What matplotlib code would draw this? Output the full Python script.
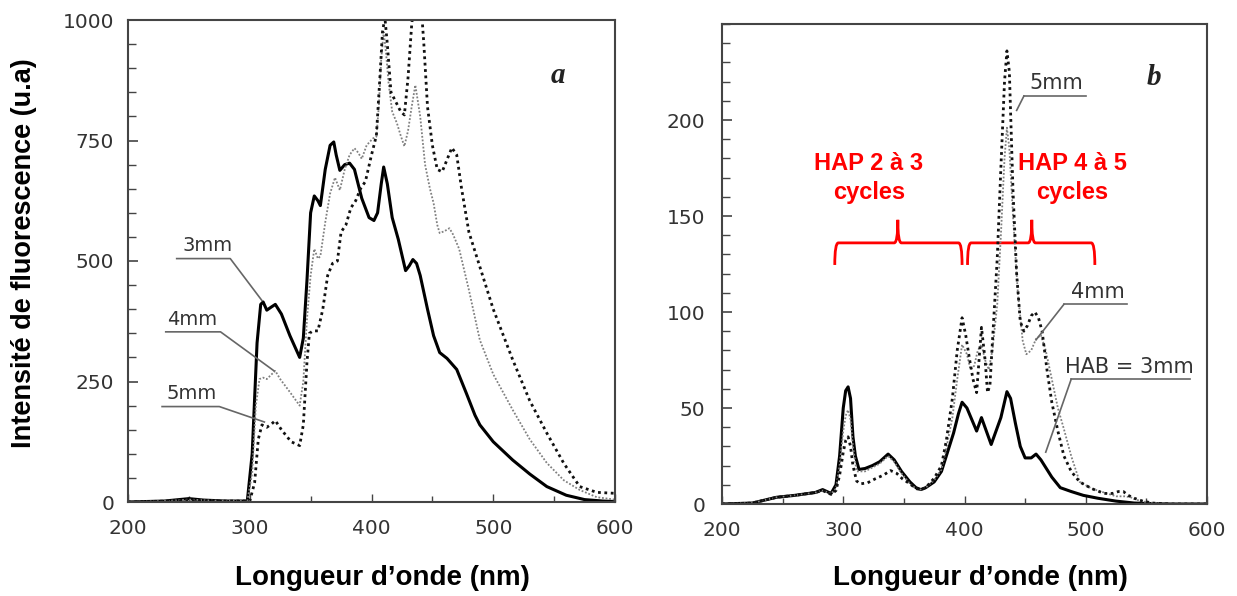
import matplotlib
matplotlib.use("Agg")
import matplotlib.pyplot as plt
from matplotlib.path import Path
from matplotlib.patches import PathPatch
from matplotlib.ticker import MultipleLocator

# ---------------- data: panel a ----------------
a_3mm_wl = [200, 230, 250, 262, 280, 298, 302, 306, 309, 311, 314, 318, 321, 326, 333, 341, 344, 347, 350, 353,
            356, 358, 362, 366, 369, 371, 374, 378, 382, 386, 392, 398, 402, 405, 408, 410, 413, 417, 422, 428,
            431, 434, 437, 440, 446, 451, 456, 462, 470, 478, 485, 489, 500, 516, 530, 544, 560, 575, 590, 600]
a_3mm_val = [0, 2, 7, 4, 2, 2, 100, 330, 410, 415, 398, 405, 410, 390, 345, 300, 340, 460, 600, 635,
             625, 615, 690, 740, 747, 720, 688, 700, 703, 690, 630, 590, 584, 600, 660, 695, 660, 590, 545, 480,
             490, 503, 495, 470, 400, 345, 310, 298, 275, 225, 180, 160, 125, 87, 58, 32, 14, 5, 2, 1]

a_4mm_wl = [200, 230, 250, 270, 298, 302, 305, 308, 311, 314, 318, 321, 325, 333, 341, 344, 347, 350, 353, 356,
            358, 362, 366, 370, 372, 374, 378, 382, 386, 389, 392, 396, 401, 404, 406, 408, 410, 412, 414, 417,
            421, 424, 427, 430, 433, 436, 440, 444, 448, 451, 454, 456, 460, 464, 467, 472, 480, 489, 500, 516,
            530, 544, 558, 571, 585, 600]
a_4mm_val = [0, 2, 5, 3, 2, 60, 200, 255, 258, 255, 265, 272, 255, 228, 200, 250, 380, 470, 525, 505,
             510, 580, 640, 673, 660, 647, 690, 720, 734, 725, 712, 740, 754, 758, 820, 920, 975, 930, 870, 810,
             785, 760, 738, 770, 820, 865, 800, 700, 650, 620, 575, 558, 562, 568, 555, 525, 440, 336, 265, 191,
             130, 81, 45, 25, 10, 5]

a_5mm_wl = [200, 250, 280, 300, 304, 307, 310, 314, 318, 321, 326, 334, 341, 344, 347, 349, 352, 356, 360, 364,
            368, 372, 375, 379, 383, 387, 391, 395, 400, 404, 407, 409, 411, 413, 416, 420, 424, 427, 430, 433,
            436, 440, 443, 446, 450, 454, 458, 462, 466, 470, 474, 480, 489, 500, 516, 530, 544, 558, 571, 585, 600]
a_5mm_val = [0, 3, 2, 2, 40, 130, 160, 155, 162, 169, 150, 125, 117, 160, 290, 350, 355, 355, 400, 470,
             495, 500, 560, 575, 610, 625, 650, 665, 720, 760, 885, 975, 1005, 950, 850, 830, 810, 803, 880, 990,
             1060, 1060, 950, 820, 740, 690, 685, 710, 735, 720, 650, 560, 488, 400, 295, 210, 143, 80, 32, 20, 18]

# ---------------- data: panel b ----------------
b_3mm_wl = [200, 225, 245, 260, 277, 283, 290, 294, 297, 300, 302, 304, 306, 308, 310, 313, 318, 324, 330, 337,
            342, 348, 355, 360, 364, 368, 375, 381, 386, 391, 395, 398, 402, 406, 410, 414, 418, 422, 426, 430,
            435, 438, 442, 446, 450, 455, 459, 463, 467, 472, 479, 488, 498, 510, 525, 540, 555, 570, 600]
b_3mm_val = [0, 0.5, 3.5, 4.5, 6, 7.5, 5.5, 10, 25, 50, 59, 61, 55, 35, 25, 18, 18.5, 20, 22, 26,
             23, 17, 11.5, 8.5, 7.5, 8.5, 11.5, 17, 27, 37, 47, 53, 50, 44, 38, 45, 38, 31, 38, 45,
             58.5, 55, 42, 30, 24, 24, 26, 23, 19, 14, 8.5, 6.5, 4.5, 3, 1.5, 0.5, 0.2, 0, 0]

b_4mm_wl = [200, 225, 245, 260, 277, 283, 290, 294, 297, 300, 302, 304, 306, 308, 311, 318, 324, 330, 337, 342,
            348, 355, 360, 364, 368, 375, 381, 385, 390, 394, 398, 402, 405, 408, 411, 414, 417, 420, 423, 427,
            430, 433, 435, 437, 440, 444, 448, 451, 455, 459, 463, 467, 472, 477, 482, 488, 495, 505, 515, 525,
            532, 537, 545, 555, 570, 600]
b_4mm_val = [0, 0.5, 3.5, 4.5, 6, 7, 5.5, 8, 20, 38, 46, 49, 44, 30, 17, 17, 19, 21, 25, 22,
             16, 10.5, 8, 7.5, 8.5, 12.4, 18, 29, 45, 65, 83, 78, 70, 72, 80, 83, 75, 70, 80, 104,
             140, 180, 196, 185, 150, 110, 85, 78, 80, 86, 88, 80, 65, 50, 39, 25, 11.5, 8, 6, 4,
             4, 3.5, 1.5, 0.6, 0, 0]

b_5mm_wl = [200, 225, 245, 260, 277, 283, 290, 294, 297, 300, 302, 304, 306, 308, 311, 314, 320, 326, 333, 339,
            344, 349, 355, 360, 364, 368, 375, 381, 385, 390, 394, 398, 401, 404, 407, 410, 414, 417, 419, 421,
            424, 427, 430, 433, 435, 437, 440, 443, 446, 449, 452, 455, 458, 461, 464, 468, 472, 477, 482, 488,
            495, 505, 515, 522, 527, 531, 535, 540, 547, 555, 570, 600]
b_5mm_val = [0, 0.5, 3.5, 4.5, 6, 7, 5, 7, 15, 27, 33, 35, 30, 20, 12, 10.5, 11, 13, 15, 17.4,
             16, 13, 10.5, 8, 7.5, 8.5, 13.4, 20, 33, 55, 80, 97, 88, 76, 65, 58, 92, 75, 58, 62,
             95, 128, 175, 220, 236, 225, 163, 120, 95, 90, 93, 98, 100, 97, 90, 70, 53, 38, 25, 17,
             11.5, 8, 5.5, 5.5, 6.5, 6.5, 4.5, 3, 1.5, 0.5, 0, 0]

x_ticks = [200, 300, 400, 500, 600]
a_yticks = [0, 250, 500, 750, 1000]
b_yticks = [0, 50, 100, 150, 200]

TICK_FONT = "DejaVu Sans"
LABEL_FONT = "Liberation Sans"
TXT = "#333333"
SPINE = "#444444"

fig = plt.figure(figsize=(12.37, 5.96), dpi=100)
axa = fig.add_axes([128 / 1237, 94 / 596, 487 / 1237, 482 / 596])
axb = fig.add_axes([722 / 1237, 92 / 596, 485 / 1237, 480 / 596])


def style(ax, ylim, yticks, yminor, pad_y):
    ax.set_xlim(200, 600)
    ax.set_ylim(*ylim)
    ax.set_xticks(x_ticks)
    ax.set_yticks(yticks)
    ax.xaxis.set_minor_locator(MultipleLocator(50))
    ax.yaxis.set_minor_locator(MultipleLocator(yminor))
    ax.tick_params(axis="both", which="both", direction="in", top=False, right=False, color=SPINE)
    ax.tick_params(axis="y", which="major", length=7, width=1.2, pad=pad_y)
    ax.tick_params(axis="y", which="minor", length=6, width=1.0)
    ax.tick_params(axis="x", which="major", length=6, width=1.0, pad=12)
    ax.tick_params(axis="x", which="minor", length=4, width=1.0)
    for lab in ax.get_xticklabels() + ax.get_yticklabels():
        lab.set_fontfamily(TICK_FONT)
        lab.set_fontsize(14.5)
        lab.set_color(TXT)
    for s in ax.spines.values():
        s.set_color(SPINE)
        s.set_linewidth(1.5)


# panel a
axa.plot(a_3mm_wl, a_3mm_val, color="black", lw=2.2, solid_joinstyle="round")
axa.plot(a_4mm_wl, a_4mm_val, color="#808080", lw=1.3, linestyle=(0, (1, 1)))
axa.plot(a_5mm_wl, a_5mm_val, color="#111111", lw=2.0, linestyle=(0, (1, 1.3)))
style(axa, (0, 1000), a_yticks, 50, 10)

lc = "#666666"
for txt, tx, ty, ux0, ux1, uy, ex, ey in [
    ("3mm", 265, 512, 240, 284, 505, 310, 418),
    ("4mm", 253, 358, 231, 276, 353, 320, 272),
    ("5mm", 252, 205, 228, 275, 198, 312, 166),
]:
    axa.text(tx, ty, txt, ha="center", va="bottom", fontsize=14, family=TICK_FONT, color=TXT)
    axa.plot([ux0, ux1, ex], [uy, uy, ey], color=lc, lw=1.2)

axa.text(553, 885, "a", ha="center", va="center", fontsize=21, family="Liberation Serif",
         fontweight="bold", fontstyle="italic", color="#222222")

# panel b
axb.plot(b_3mm_wl, b_3mm_val, color="black", lw=2.2, solid_joinstyle="round")
axb.plot(b_4mm_wl, b_4mm_val, color="#808080", lw=1.3, linestyle=(0, (1, 1)))
axb.plot(b_5mm_wl, b_5mm_val, color="#111111", lw=2.0, linestyle=(0, (1, 1.3)))
style(axb, (0, 250), b_yticks, 10, 12)

for txt, tx, ty, ux0, ux1, uy, ex, ey in [
    ("5mm", 476, 214, 449, 500, 212.5, 443, 205),
    ("4mm", 510, 105, 482, 534, 104, 459, 85.5),
    ("HAB = 3mm", 536, 66, 488, 586, 65, 467, 27),
]:
    axb.text(tx, ty, txt, ha="center", va="bottom", fontsize=15, family=TICK_FONT, color=TXT)
    axb.plot([ux0, ux1], [uy, uy], color=lc, lw=1.2)
    axb.plot([ux0, ex], [uy, ey], color=lc, lw=1.2)

axb.text(556, 222, "b", ha="center", va="center", fontsize=21, family="Liberation Serif",
         fontweight="bold", fontstyle="italic", color="#222222")

# red braces and text
RED = "#ff0000"


def brace(ax, x0, x1, xm, yb, ybar, ytip):
    d = 3.0
    verts = [(x0, yb), (x0, ybar), (x0 + d, ybar),
             (xm - d, ybar), (xm, ybar), (xm, ytip),
             (xm, ybar), (xm + d, ybar),
             (x1 - d, ybar), (x1, ybar), (x1, yb)]
    codes = [Path.MOVETO, Path.CURVE3, Path.CURVE3,
             Path.LINETO, Path.CURVE3, Path.CURVE3,
             Path.CURVE3, Path.CURVE3,
             Path.LINETO, Path.CURVE3, Path.CURVE3]
    ax.add_patch(PathPatch(Path(verts, codes), fill=False, edgecolor=RED, lw=2.0, clip_on=False))


brace(axb, 293, 398, 345, 124.5, 136, 148)
brace(axb, 402.5, 507.5, 455.5, 124.5, 136, 148)

for x, l1 in [(321, "HAP 2 à 3"), (489, "HAP 4 à 5")]:
    axb.text(x, 177.5, l1, ha="center", va="center", fontsize=17, family=LABEL_FONT,
             fontweight="bold", color=RED)
    axb.text(x, 162.5, "cycles", ha="center", va="center", fontsize=17, family=LABEL_FONT,
             fontweight="bold", color=RED)

# axis labels
fig.text(382 / 1237, 1 - 578 / 596, "Longueur d\u2019onde (nm)", ha="center", va="center",
         fontsize=20, family=LABEL_FONT, fontweight="bold", color="black")
fig.text(980 / 1237, 1 - 578 / 596, "Longueur d\u2019onde (nm)", ha="center", va="center",
         fontsize=20, family=LABEL_FONT, fontweight="bold", color="black")
fig.text(24 / 1237, 1 - 253 / 596, "Intensité de fluorescence (u.a)", ha="center", va="center",
         rotation=90, fontsize=19.5, family=LABEL_FONT, fontweight="bold", color="black")

fig.savefig("out.png", dpi=100, facecolor="white")
